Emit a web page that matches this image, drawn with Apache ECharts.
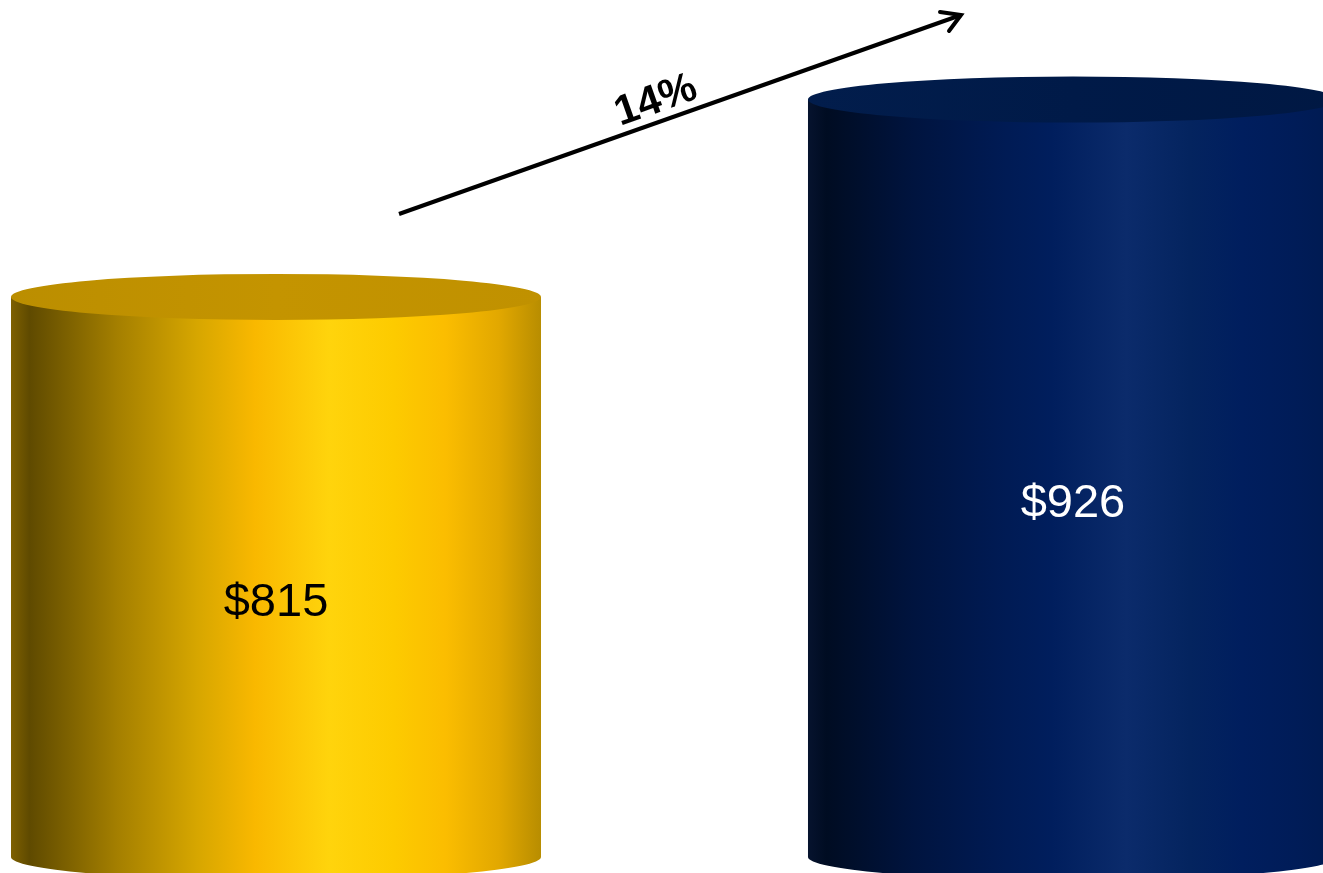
<!DOCTYPE html>
<html>
<head>
<meta charset="utf-8">
<script src="https://cdn.jsdelivr.net/npm/echarts@6/dist/echarts.min.js"></script>
<style>
html,body{margin:0;padding:0;background:#fff;}
#chart{width:1323px;height:873px;}
</style>
</head>
<body>
<div id="chart"></div>
<script>
// ---- data ----
var categories = ['Before', 'After'];
var values = [815, 926];
var valueLabels = ['$815', '$926'];
var growthLabel = ['14%'];
var axisMin = 500;
var axisMax = 982;
var xMin = -0.3463;
var xMax = 1.3137;

// ---- styles ----
var palettes = [
  { // gold
    body: [[0, '#7e6000'], [0.035, '#5f4a00'], [0.2, '#a47f00'], [0.35, '#d6a600'], [0.46, '#f9b800'], [0.6, '#ffd40c'], [0.72, '#fdcb00'], [0.82, '#fbbd00'], [0.92, '#e2a800'], [1, '#b88d00']],
    top: [[0, '#bb8e00'], [0.5, '#c49400'], [1, '#c09100']],
    text: '#000000'
  },
  { // navy
    body: [[0, '#06132e'], [0.035, '#000c22'], [0.2, '#00143f'], [0.35, '#001a52'], [0.46, '#001e5d'], [0.6, '#0b2b6b'], [0.72, '#04245f'], [0.82, '#001e5e'], [0.92, '#001c58'], [1, '#001a50']],
    top: [[0, '#021d4c'], [0.5, '#001a48'], [1, '#001843']],
    text: '#ffffff'
  }
];

function grad(stops) {
  return {
    type: 'linear', x: 0, y: 0, x2: 1, y2: 0,
    colorStops: stops.map(function (s) { return { offset: s[0], color: s[1] }; })
  };
}

var chart = echarts.init(document.getElementById('chart'), null, { renderer: 'canvas' });

var seriesData = values.map(function (v, i) { return [i, v]; });

var option = {
  animation: false,
  backgroundColor: '#ffffff',
  grid: { left: 0, right: 0, top: 0, bottom: 16, containLabel: false },
  xAxis: {
    type: 'value', min: xMin, max: xMax,
    axisLine: { show: false }, axisTick: { show: false }, axisLabel: { show: false }, splitLine: { show: false }
  },
  yAxis: {
    type: 'value', min: axisMin, max: axisMax,
    axisLine: { show: false }, axisTick: { show: false }, axisLabel: { show: false }, splitLine: { show: false }
  },
  series: [{
    type: 'custom',
    name: 'value',
    data: seriesData,
    clip: false,
    renderItem: function (params, api) {
      var idx = api.value(0);
      var val = api.value(1);
      var topPt = api.coord([idx, val]);
      var botPt = api.coord([idx, axisMin]);
      var band = api.size([1, 0])[0];
      var w = band * 0.665;
      var rx = w / 2;
      var ry = 23;
      var cx = topPt[0];
      var l = cx - rx, r = cx + rx;
      var top = topPt[1], bot = botPt[1];
      var pal = palettes[params.dataIndex];
      var bodyPath = 'M' + l + ',' + top + ' L' + l + ',' + bot +
        ' A' + rx + ',' + ry + ' 0 0 0 ' + r + ',' + bot +
        ' L' + r + ',' + top + ' Z';
      var topPath = 'M' + l + ',' + top +
        ' A' + rx + ',' + ry + ' 0 1 0 ' + r + ',' + top +
        ' A' + rx + ',' + ry + ' 0 1 0 ' + l + ',' + top + ' Z';
      return {
        type: 'group',
        children: [
          { type: 'path', shape: { pathData: bodyPath }, style: { fill: grad(pal.body) } },
          { type: 'path', shape: { pathData: topPath }, style: { fill: grad(pal.top) } },
          {
            type: 'text', x: cx, y: (top + bot) / 2 + 26,
            style: {
              text: valueLabels[params.dataIndex],
              fontSize: 47, fontFamily: 'Arial, "Liberation Sans", sans-serif',
              fill: pal.text, align: 'center', verticalAlign: 'middle'
            }
          }
        ]
      };
    }
  }],
  graphic: [
    { type: 'line', shape: { x1: 399, y1: 214, x2: 961, y2: 15 }, style: { stroke: '#000', lineWidth: 4 } },
    { type: 'polyline', shape: { points: [[940, 12], [961, 15], [949, 31]] }, style: { stroke: '#000', lineWidth: 4, fill: null, lineCap: 'round', lineJoin: 'miter' } },
    {
      type: 'text', x: 656, y: 101, rotation: 0.3413,
      style: {
        text: growthLabel[0], fontSize: 42, fontWeight: 'bold',
        fontFamily: 'Arial, "Liberation Sans", sans-serif', fill: '#000',
        align: 'center', verticalAlign: 'middle'
      }
    }
  ]
};
chart.setOption(option);
</script>
</body>
</html>
